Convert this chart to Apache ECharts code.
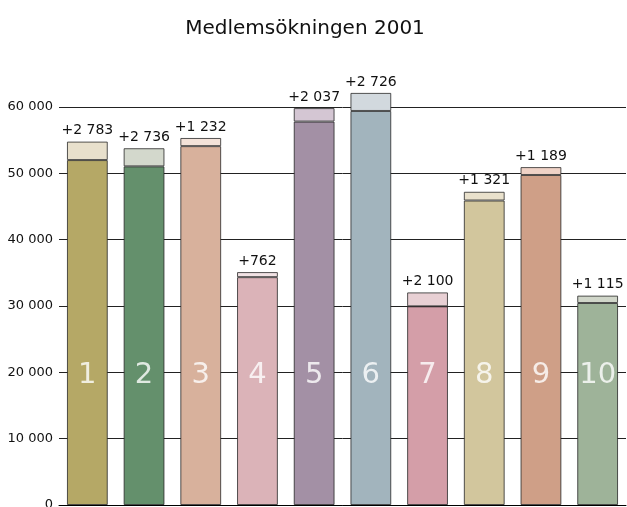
<!DOCTYPE html>
<html>
<head>
<meta charset="utf-8">
<script src="https://cdn.jsdelivr.net/npm/echarts@6/dist/echarts.min.js"></script>
<style>
html,body{margin:0;padding:0;background:#fff;}
#chart{width:627px;height:507px;}
</style>
</head>
<body>
<div id="chart"></div>
<script>
const title = 'Medlemsökningen 2001';
const categories = ['1','2','3','4','5','6','7','8','9','10'];
const baseMembers = [52000, 51050, 54100, 34350, 57800, 59400, 29950, 45900, 49750, 30450];
const increase = [2783, 2736, 1232, 762, 2037, 2726, 2100, 1321, 1189, 1115];
const yTicks = [0, 10000, 20000, 30000, 40000, 50000, 60000];
const baseColors = ['#b5a866','#64906c','#d8b19c','#dbb3b8','#a390a5','#a2b4bd','#d49ea8','#d2c69d','#cf9f87','#9eb399'];
const topColors = ['#e8e0cc','#d3d8cc','#f3e2d9','#f1e2e4','#d4c6d3','#d2d9de','#e8d0d4','#e9e1cc','#efd2c6','#d0d6c9'];
const numberLabelLevel = 20000;

const FONT = 'DejaVu Sans';
function fmt(n){ return String(n).replace(/\B(?=(\d{3})+(?!\d))/g, ' '); }

const chart = echarts.init(document.getElementById('chart'), null, {renderer:'canvas'});
chart.setOption({
  animation: false,
  backgroundColor: '#fff',
  textStyle: {fontFamily: FONT},
  title: {
    text: title,
    left: 300, top: 14, textAlign: 'center',
    textStyle: {fontFamily: FONT, fontSize: 20, fontWeight: 'normal', color: '#111'}
  },
  grid: {left: 59, right: 1, top: 107, bottom: 2, containLabel: false, outerBoundsMode: 'none'},
  xAxis: {
    type: 'category', data: categories,
    axisLine: {show: true, lineStyle: {color: '#000', width: 1}},
    axisTick: {show: false}, axisLabel: {show: false}
  },
  yAxis: {
    type: 'value', min: yTicks[0], max: yTicks[yTicks.length-1], interval: 10000,
    axisLine: {show: false}, axisTick: {show: false},
    splitLine: {show: true, lineStyle: {color: '#222', width: 1}},
    axisLabel: {fontFamily: FONT, fontSize: 13, color: '#111', margin: 6, formatter: v => fmt(v)}
  },
  series: [
    {
      type: 'bar', stack: 'a', barWidth: '72%', clip: false,
      data: baseMembers.map((v,i)=>({value:v, itemStyle:{color: baseColors[i]}})),
      itemStyle: {borderColor: 'rgba(40,40,40,0.8)', borderWidth: 1}
    },
    {
      type: 'bar', stack: 'a', barWidth: '72%', clip: false,
      data: increase.map((v,i)=>({value:v, itemStyle:{color: topColors[i]}})),
      itemStyle: {borderColor: 'rgba(40,40,40,0.8)', borderWidth: 1},
      label: {show: true, position: 'top', distance: 4, fontFamily: FONT, fontSize: 14, color: '#111',
        formatter: p => '+' + fmt(p.value)}
    },
    {
      type: 'scatter', symbolSize: 0, z: 5,
      data: categories.map(c => [c, numberLabelLevel]),
      label: {show: true, position: 'inside', offset: [0, 3], fontFamily: FONT, fontSize: 29, color: '#fff',
        formatter: p => p.value[0]}
    }
  ]
});
</script>
</body>
</html>
